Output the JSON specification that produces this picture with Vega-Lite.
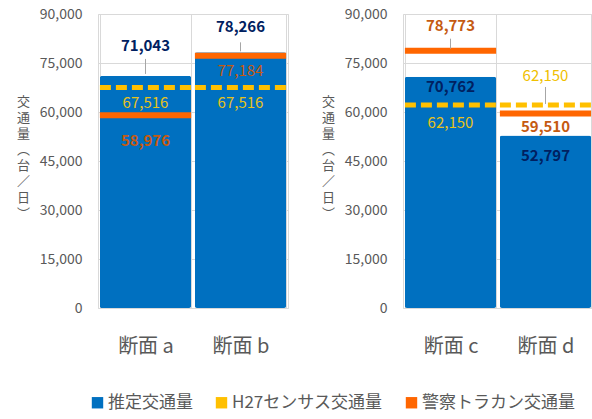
{
  "$schema": "https://vega.github.io/schema/vega-lite/v6.json",
  "padding": {"left": 15, "top": 6, "right": 0, "bottom": 4},
  "background": "white",
  "datasets": {
    "d": [
      {"panel": "L", "cat": "断面 a", "series": "推定交通量", "value": 71043},
      {"panel": "L", "cat": "断面 a", "series": "H27センサス交通量", "value": 67516},
      {"panel": "L", "cat": "断面 a", "series": "警察トラカン交通量", "value": 58976},
      {"panel": "L", "cat": "断面 b", "series": "推定交通量", "value": 78266},
      {"panel": "L", "cat": "断面 b", "series": "H27センサス交通量", "value": 67516},
      {"panel": "L", "cat": "断面 b", "series": "警察トラカン交通量", "value": 77184},
      {"panel": "R", "cat": "断面 c", "series": "推定交通量", "value": 70762},
      {"panel": "R", "cat": "断面 c", "series": "H27センサス交通量", "value": 62150},
      {"panel": "R", "cat": "断面 c", "series": "警察トラカン交通量", "value": 78773},
      {"panel": "R", "cat": "断面 d", "series": "推定交通量", "value": 52797},
      {"panel": "R", "cat": "断面 d", "series": "H27センサス交通量", "value": 62150},
      {"panel": "R", "cat": "断面 d", "series": "警察トラカン交通量", "value": 59510}
    ]
  },
  "bounds": "flush",
  "spacing": 115,
  "hconcat": [
    {
      "width": 190,
      "height": 294,
      "data": {"name": "d"},
      "transform": [{"filter": "datum.panel === 'L'"}],
      "encoding": {
        "x": {"field": "cat", "type": "nominal", "title": null}
      },
      "layer": [
        {
          "transform": [{"filter": "datum.series === '推定交通量'"}],
          "mark": {"type": "bar", "cornerRadius": 2},
          "encoding": {
            "y": {
              "field": "value", "type": "quantitative",
              "scale": {"domain": [0, 90000], "nice": false},
              "axis": {"values": [0, 15000, 30000, 45000, 60000, 75000, 90000], "labelExpr": "format(datum.value, ',')", "title": ["交", "通", "量", "︵", "台", "／", "日", "︶"]}
            },
            "color": {
              "field": "series", "type": "nominal",
              "scale": {"domain": ["推定交通量", "H27センサス交通量", "警察トラカン交通量"], "range": ["#0070C0", "#FFC000", "#FF6600"]},
              "legend": {
                "orient": "none", "legendX": -9, "legendY": 380, "direction": "horizontal", "title": null,
                "labelFontSize": 17, "labelColor": "#595959", "symbolType": "square", "symbolSize": 130, "columnPadding": 20, "labelOffset": 2, "labelLimit": 220
              }
            }
          }
        },
        {
          "transform": [{"filter": "datum.series === '警察トラカン交通量'"}],
          "mark": {"type": "rule", "strokeWidth": 6, "strokeCap": "butt", "color": "#FF6600"},
          "encoding": {
            "x": {"field": "cat", "type": "nominal", "bandPosition": 0, "title": null},
            "x2": {"field": "cat", "bandPosition": 1},
            "y": {"field": "value", "type": "quantitative"}
          }
        },
        {
          "transform": [{"filter": "datum.series === 'H27センサス交通量'"}],
          "mark": {"type": "rule", "strokeWidth": 5, "strokeCap": "butt", "strokeDash": [11, 5], "color": "#FFC000"},
          "encoding": {
            "x": {"field": "cat", "type": "nominal", "bandPosition": 0, "title": null},
            "x2": {"field": "cat", "bandPosition": 1},
            "y": {"field": "value", "type": "quantitative"}
          }
        },
        {
          "transform": [{"filter": "datum.cat === '断面 a' && datum.series === '推定交通量'"}],
          "mark": {"type": "rule", "color": "#A6A6A6", "strokeWidth": 1, "yOffset": -2, "y2Offset": -17},
          "encoding": {"y": {"field": "value", "type": "quantitative"}, "y2": {"field": "value"}}
        },
        {
          "transform": [{"filter": "datum.cat === '断面 b' && datum.series === '推定交通量'"}],
          "mark": {"type": "rule", "color": "#A6A6A6", "strokeWidth": 1, "yOffset": -1, "y2Offset": -10},
          "encoding": {"y": {"field": "value", "type": "quantitative"}, "y2": {"field": "value"}}
        },
        {
          "transform": [{"filter": "datum.cat === '断面 a' && datum.series === '推定交通量'"}],
          "mark": {"type": "text", "baseline": "middle", "fontSize": 15, "fontWeight": "bold", "color": "#002060", "dy": -30},
          "encoding": {"y": {"field": "value", "type": "quantitative"}, "text": {"field": "value", "type": "quantitative", "format": ","}}
        },
        {
          "transform": [{"filter": "datum.cat === '断面 b' && datum.series === '推定交通量'"}],
          "mark": {"type": "text", "baseline": "middle", "fontSize": 15, "fontWeight": "bold", "color": "#002060", "dy": -25},
          "encoding": {"y": {"field": "value", "type": "quantitative"}, "text": {"field": "value", "type": "quantitative", "format": ","}}
        },
        {
          "transform": [{"filter": "datum.series === 'H27センサス交通量'"}],
          "mark": {"type": "text", "baseline": "middle", "fontSize": 15, "color": "#E8C21A", "dy": 16},
          "encoding": {"y": {"field": "value", "type": "quantitative"}, "text": {"field": "value", "type": "quantitative", "format": ","}}
        },
        {
          "transform": [{"filter": "datum.cat === '断面 a' && datum.series === '警察トラカン交通量'"}],
          "mark": {"type": "text", "baseline": "middle", "fontSize": 15, "fontWeight": "bold", "color": "#C55A11", "dy": 26},
          "encoding": {"y": {"field": "value", "type": "quantitative"}, "text": {"field": "value", "type": "quantitative", "format": ","}}
        },
        {
          "transform": [{"filter": "datum.cat === '断面 b' && datum.series === '警察トラカン交通量'"}],
          "mark": {"type": "text", "baseline": "middle", "fontSize": 15, "color": "#C55A11", "dy": 15},
          "encoding": {"y": {"field": "value", "type": "quantitative"}, "text": {"field": "value", "type": "quantitative", "format": ","}}
        }
      ]
    },
    {
      "width": 190,
      "height": 294,
      "data": {"name": "d"},
      "transform": [{"filter": "datum.panel === 'R'"}],
      "encoding": {
        "x": {"field": "cat", "type": "nominal", "title": null}
      },
      "layer": [
        {
          "transform": [{"filter": "datum.series === '推定交通量'"}],
          "mark": {"type": "bar", "cornerRadius": 2, "color": "#0070C0"},
          "encoding": {
            "y": {
              "field": "value", "type": "quantitative",
              "scale": {"domain": [0, 90000], "nice": false},
              "axis": {"values": [0, 15000, 30000, 45000, 60000, 75000, 90000], "labelExpr": "format(datum.value, ',')", "title": ["交", "通", "量", "︵", "台", "／", "日", "︶"]}
            }
          }
        },
        {
          "transform": [{"filter": "datum.series === '警察トラカン交通量'"}],
          "mark": {"type": "rule", "strokeWidth": 6, "strokeCap": "butt", "color": "#FF6600"},
          "encoding": {
            "x": {"field": "cat", "type": "nominal", "bandPosition": 0, "title": null},
            "x2": {"field": "cat", "bandPosition": 1},
            "y": {"field": "value", "type": "quantitative"}
          }
        },
        {
          "transform": [{"filter": "datum.series === 'H27センサス交通量'"}],
          "mark": {"type": "rule", "strokeWidth": 5, "strokeCap": "butt", "strokeDash": [11, 5], "color": "#FFC000"},
          "encoding": {
            "x": {"field": "cat", "type": "nominal", "bandPosition": 0, "title": null},
            "x2": {"field": "cat", "bandPosition": 1},
            "y": {"field": "value", "type": "quantitative"}
          }
        },
        {
          "transform": [{"filter": "datum.cat === '断面 c' && datum.series === '警察トラカン交通量'"}],
          "mark": {"type": "rule", "color": "#A6A6A6", "strokeWidth": 1, "yOffset": -2, "y2Offset": -12},
          "encoding": {"y": {"field": "value", "type": "quantitative"}, "y2": {"field": "value"}}
        },
        {
          "transform": [{"filter": "datum.cat === '断面 d' && datum.series === 'H27センサス交通量'"}],
          "mark": {"type": "rule", "color": "#A6A6A6", "strokeWidth": 1, "yOffset": -1, "y2Offset": -18},
          "encoding": {"y": {"field": "value", "type": "quantitative"}, "y2": {"field": "value"}}
        },
        {
          "transform": [{"filter": "datum.cat === '断面 c' && datum.series === '推定交通量'"}],
          "mark": {"type": "text", "baseline": "middle", "fontSize": 15, "fontWeight": "bold", "color": "#002060", "dy": 10},
          "encoding": {"y": {"field": "value", "type": "quantitative"}, "text": {"field": "value", "type": "quantitative", "format": ","}}
        },
        {
          "transform": [{"filter": "datum.cat === '断面 d' && datum.series === '推定交通量'"}],
          "mark": {"type": "text", "baseline": "middle", "fontSize": 15, "fontWeight": "bold", "color": "#002060", "dy": 20},
          "encoding": {"y": {"field": "value", "type": "quantitative"}, "text": {"field": "value", "type": "quantitative", "format": ","}}
        },
        {
          "transform": [{"filter": "datum.cat === '断面 c' && datum.series === 'H27センサス交通量'"}],
          "mark": {"type": "text", "baseline": "middle", "fontSize": 15, "color": "#E8C21A", "dy": 18},
          "encoding": {"y": {"field": "value", "type": "quantitative"}, "text": {"field": "value", "type": "quantitative", "format": ","}}
        },
        {
          "transform": [{"filter": "datum.cat === '断面 d' && datum.series === 'H27センサス交通量'"}],
          "mark": {"type": "text", "baseline": "middle", "fontSize": 15, "color": "#F0C000", "dy": -29},
          "encoding": {"y": {"field": "value", "type": "quantitative"}, "text": {"field": "value", "type": "quantitative", "format": ","}}
        },
        {
          "transform": [{"filter": "datum.cat === '断面 c' && datum.series === '警察トラカン交通量'"}],
          "mark": {"type": "text", "baseline": "middle", "fontSize": 15, "fontWeight": "bold", "color": "#C55A11", "dy": -25},
          "encoding": {"y": {"field": "value", "type": "quantitative"}, "text": {"field": "value", "type": "quantitative", "format": ","}}
        },
        {
          "transform": [{"filter": "datum.cat === '断面 d' && datum.series === '警察トラカン交通量'"}],
          "mark": {"type": "text", "baseline": "middle", "fontSize": 15, "fontWeight": "bold", "color": "#C55A11", "dy": 13},
          "encoding": {"y": {"field": "value", "type": "quantitative"}, "text": {"field": "value", "type": "quantitative", "format": ","}}
        }
      ]
    }
  ],
  "config": {
    "font": "Noto Sans CJK JP",
    "view": {"stroke": "#D9D9D9"},
    "scale": {"bandPaddingInner": 0.04, "bandPaddingOuter": 0.02},
    "axisX": {"labelAngle": 0, "labelFontSize": 20, "labelColor": "#595959", "labelPadding": 28, "ticks": false, "domain": false, "grid": true, "gridColor": "#D9D9D9", "tickBand": "extent"},
    "axisY": {"labelFontSize": 14, "labelColor": "#595959", "labelPadding": 16, "ticks": false, "domain": false, "grid": true, "gridColor": "#D9D9D9", "titleColor": "#595959", "titleFontSize": 13, "titleFontWeight": "normal", "titleAngle": 0, "titleAlign": "center", "titleBaseline": "middle", "titleLineHeight": 16, "titleX": -75, "titleY": 87}
  }
}
